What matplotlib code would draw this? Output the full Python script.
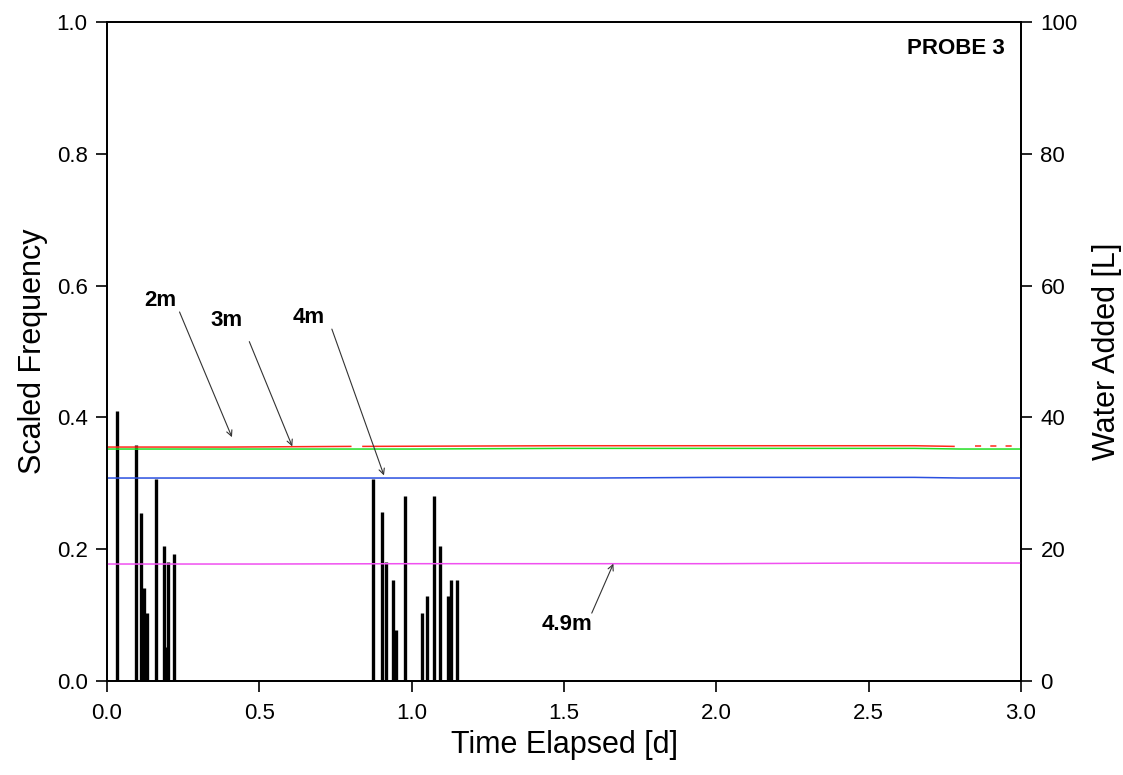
import matplotlib.pyplot as plt
import numpy as np

plt.rcParams['font.family'] = ['Liberation Sans', 'DejaVu Sans']

# water additions (time in days, litres)
water_t = [0.032, 0.094, 0.111, 0.121, 0.131, 0.160, 0.187, 0.194, 0.201, 0.219,
           0.874, 0.903, 0.916, 0.938, 0.948, 0.979, 1.035, 1.049, 1.073, 1.093,
           1.119, 1.129, 1.148]
water_L = [40.9, 35.8, 25.5, 14.1, 10.3, 30.7, 20.5, 5.2, 18.0, 19.2,
           30.7, 25.6, 18.0, 15.4, 7.7, 28.1, 10.3, 12.9, 28.1, 20.5,
           12.9, 15.4, 15.4]

# scaled frequency per probe depth
t_2m = [0.0, 0.4, 0.80, np.nan, 0.84, 1.5, 2.0, 2.65, 2.78]
f_2m = [0.355, 0.355, 0.356, np.nan, 0.356, 0.357, 0.357, 0.357, 0.356]
t_2m_tail = [2.85, 3.0]
f_2m_tail = [0.356, 0.356]
t_3m = [0.0, 0.5, 1.0, 1.5, 2.0, 2.65, 2.8, 3.0]
f_3m = [0.352, 0.352, 0.352, 0.353, 0.353, 0.353, 0.352, 0.352]
t_4m = [0.0, 0.5, 1.0, 1.6, 2.0, 2.65, 2.8, 3.0]
f_4m = [0.308, 0.308, 0.308, 0.308, 0.309, 0.309, 0.308, 0.308]
t_49m = [0.0, 0.5, 1.0, 1.5, 2.0, 2.5, 3.0]
f_49m = [0.1775, 0.1775, 0.178, 0.178, 0.178, 0.179, 0.179]

fig = plt.figure(figsize=(11.23, 7.75), dpi=100)
ax = fig.add_axes([0.0953, 0.1213, 0.8139, 0.8503])
ax2 = ax.twinx()

ax2.vlines(water_t, 0, water_L, color='black', linewidth=2.4)

ax.plot(t_2m, f_2m, color='#ff2a1a', linewidth=1.1)
ax.plot(t_2m_tail, f_2m_tail, color='#ff2a1a', linewidth=1.1, linestyle=(0, (4, 6)))
ax.plot(t_3m, f_3m, color='#22dd22', linewidth=1.1)
ax.plot(t_4m, f_4m, color='#2a4fe0', linewidth=1.1)
ax.plot(t_49m, f_49m, color='#f050f0', linewidth=1.1)

ax.set_zorder(ax2.get_zorder() + 1)
ax.patch.set_visible(False)

ax.set_xlim(0, 3.0)
ax.set_ylim(0, 1.0)
ax2.set_ylim(0, 100)
ax.set_xticks(np.arange(0, 3.01, 0.5))
ax.set_yticks(np.arange(0, 1.01, 0.2))
ax2.set_yticks(np.arange(0, 101, 20))
ax.xaxis.set_major_formatter(plt.FuncFormatter(lambda v, p: f'{v:.1f}'))
ax.yaxis.set_major_formatter(plt.FuncFormatter(lambda v, p: f'{v:.1f}'))

for a in (ax, ax2):
    a.tick_params(direction='out', length=8, width=1.2, labelsize=16, pad=6)
    for s in a.spines.values():
        s.set_linewidth(1.3)
ax.tick_params(axis='x', pad=8)

ax.set_xlabel('Time Elapsed [d]', fontsize=22, labelpad=4)
ax.set_ylabel('Scaled Frequency', fontsize=22, labelpad=6)
ax2.set_ylabel('Water Added [L]', fontsize=22, labelpad=10)

arrow = dict(arrowstyle='->', color='#333333', linewidth=0.8, shrinkA=0, shrinkB=0)
lab = dict(fontsize=16, fontweight='bold', ha='center', va='center')

ax.annotate('', xy=(0.410, 0.370), xytext=(0.238, 0.560), arrowprops=arrow)
ax.text(0.174, 0.578, '2m', **lab)
ax.annotate('', xy=(0.608, 0.356), xytext=(0.467, 0.515), arrowprops=arrow)
ax.text(0.393, 0.547, '3m', **lab)
ax.annotate('', xy=(0.909, 0.312), xytext=(0.738, 0.534), arrowprops=arrow)
ax.text(0.663, 0.552, '4m', **lab)
ax.annotate('', xy=(1.662, 0.178), xytext=(1.591, 0.103), arrowprops=arrow)
ax.text(1.509, 0.085, '4.9m', **lab)
ax.text(2.947, 0.9605, 'PROBE 3', fontsize=16, fontweight='bold', ha='right', va='center')

fig.savefig('out.png', dpi=100)
